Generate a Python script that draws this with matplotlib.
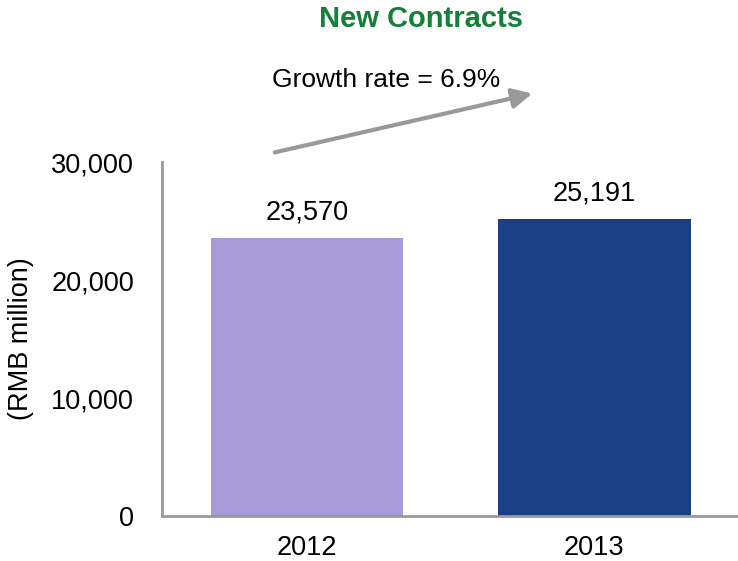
import matplotlib
matplotlib.use("Agg")
import matplotlib.pyplot as plt

years = ["2012", "2013"]
contracts = [23570, 25191]
bar_colors = ["#A899D9", "#1A3F85"]
growth_label = "Growth rate = 6.9%"

plt.rcParams["font.family"] = ["Liberation Sans", "DejaVu Sans"]

fig = plt.figure(figsize=(7.38, 5.61), dpi=100)
ax = fig.add_axes([0.2195, 0.0802, 0.7805, 0.631])

x = list(range(len(years)))
bars = ax.bar(x, contracts, width=0.67, color=bar_colors)
for rect, val in zip(bars, contracts):
    ax.annotate(f"{val:,}", (rect.get_x() + rect.get_width() / 2, val),
                xytext=(0, 9), textcoords="offset points",
                ha="center", va="bottom", fontsize=19.5)

ax.set_xlim(-0.505, 1.5)
ax.set_ylim(0, 30000)
ax.set_xticks(x)
ax.set_xticklabels(years)
ax.set_yticks([0, 10000, 20000, 30000])
ax.set_yticklabels([f"{v:,}" for v in [0, 10000, 20000, 30000]])
ax.tick_params(axis="both", length=0, labelsize=19.5)
ax.tick_params(axis="x", pad=14)
ax.tick_params(axis="y", pad=20)

for side in ["top", "right"]:
    ax.spines[side].set_visible(False)
for side in ["left", "bottom"]:
    ax.spines[side].set_color("#999999")
    ax.spines[side].set_linewidth(2)

ax.set_ylabel("(RMB million)", fontsize=19.5)
ax.yaxis.set_label_coords(-0.223, 0.5)

fig.text(421 / 738, 1 - 19 / 561, "New Contracts", ha="center", va="center",
         fontsize=21, fontweight="bold", color="#138038")
fig.text(386 / 738, 1 - 80 / 561, growth_label, ha="center", va="center", fontsize=19)
fig.add_artist(matplotlib.patches.FancyArrowPatch(
    (272 / 738, 1 - 153 / 561), (535 / 738, 1 - 93 / 561),
    transform=fig.transFigure, arrowstyle="-|>,head_length=12,head_width=6",
    mutation_scale=1, color="#999999", linewidth=3))

fig.savefig("out.png", dpi=100)
